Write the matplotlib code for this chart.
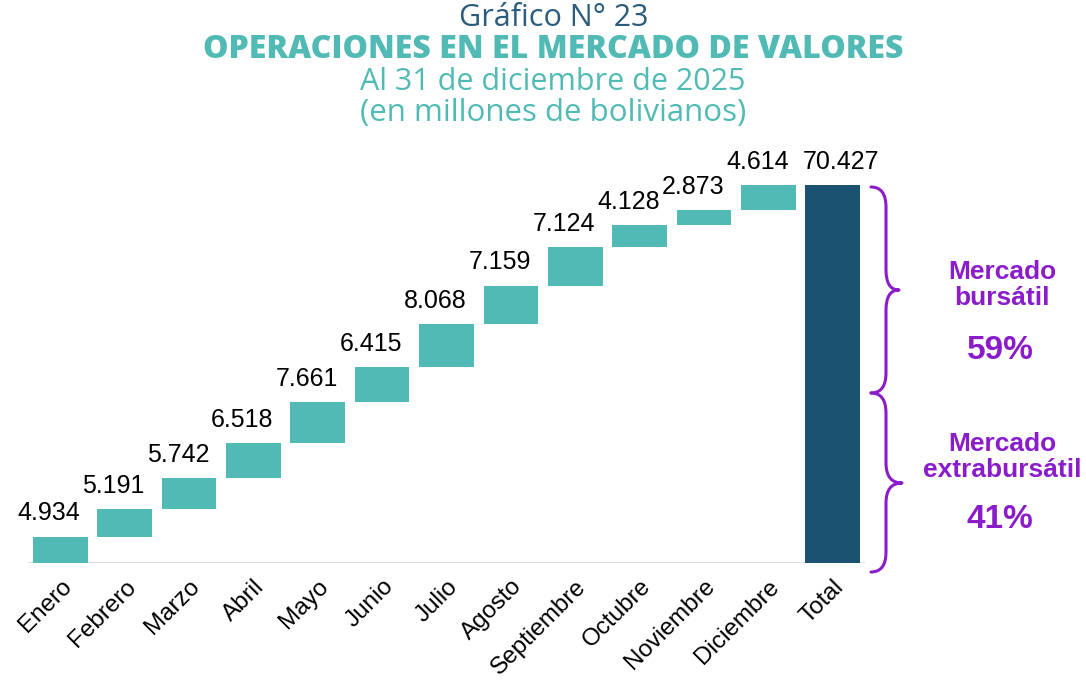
import numpy as np
import matplotlib.pyplot as plt
from matplotlib.path import Path
from matplotlib.patches import PathPatch

months = ['Enero', 'Febrero', 'Marzo', 'Abril', 'Mayo', 'Junio', 'Julio',
          'Agosto', 'Septiembre', 'Octubre', 'Noviembre', 'Diciembre']
values = [4934, 5191, 5742, 6518, 7661, 6415, 8068, 7159, 7124, 4128, 2873, 4614]
total_label = 'Total'
share_labels = ['Mercado\nbursátil', 'Mercado\nextrabursátil']
share_values = ['59%', '41%']

TEAL = '#52BAB4'
NAVY = '#1B5271'
PURPLE = '#8A1CC9'
TITLE_BLUE = '#2B5C7E'

W, H = 1086, 685
fig = plt.figure(figsize=(W / 100, H / 100), dpi=100)

# main axes (pixel box: x 28..865, baseline at y=563)
ax = fig.add_axes([28 / W, 1 - 563 / H, 837 / W, (563 - 176.6) / H])

vals = np.array(values)
cum = np.cumsum(vals)
total = cum[-1]
x = np.arange(len(months))

ax.bar(x, vals, bottom=cum - vals, width=0.85, color=TEAL, zorder=2)
ax.bar(len(months), total, width=0.85, color=NAVY, zorder=2)

fmt = lambda v: f'{v:,}'.replace(',', '.')
for xi, top, v in zip(x, cum, vals):
    ax.annotate(fmt(v), (xi, top), xytext=(-8, 8), textcoords='offset points',
                ha='center', va='bottom', fontsize=18, family='Liberation Sans')
ax.annotate(fmt(total), (len(months), total), xytext=(6, 8), textcoords='offset points',
            ha='center', va='bottom', fontsize=18, family='Liberation Sans')

ax.axhline(0, color='#d9d9d9', lw=2, zorder=1)
ax.set_xlim(-0.5, len(months) + 0.5)
ax.set_ylim(0, 72000)
ax.set_yticks([])
ax.set_xticks(list(x) + [len(months)])
ax.set_xticklabels(months + [total_label], rotation=45, ha='right', va='top',
                   rotation_mode='anchor', fontsize=17.5, family='Liberation Sans')
ax.tick_params(axis='x', length=0, pad=9)
for s in ax.spines.values():
    s.set_visible(False)

# titles
fig.text(554 / W, 1 - 18 / H, 'Gráfico N° 23', ha='center', va='center',
         fontsize=22, color=TITLE_BLUE, family='Open Sans')
fig.text(553 / W, 1 - 50 / H, 'OPERACIONES EN EL MERCADO DE VALORES', ha='center',
         va='center', fontsize=23, color=TEAL, family='Open Sans', weight='heavy')
fig.text(553 / W, 1 - 82 / H, 'Al 31 de diciembre de 2025', ha='center', va='center',
         fontsize=22, color=TEAL, family='Open Sans')
fig.text(553 / W, 1 - 113 / H, '(en millones de bolivianos)', ha='center', va='center',
         fontsize=22.5, color=TEAL, family='Open Sans')

# braces overlay in pixel coordinates
ov = fig.add_axes([0, 0, 1, 1], zorder=5)
ov.set_xlim(0, W)
ov.set_ylim(H, 0)
ov.axis('off')


def brace(x0, xv, xt, yt, ym, yb, r=20):
    verts = [(x0, yt), (xv, yt), (xv, yt + r),
             (xv, ym - r), (xv, ym), (xt, ym),
             (xv, ym), (xv, ym + r),
             (xv, yb - r), (xv, yb), (x0, yb)]
    codes = [Path.MOVETO, Path.CURVE3, Path.CURVE3,
             Path.LINETO, Path.CURVE3, Path.CURVE3,
             Path.CURVE3, Path.CURVE3,
             Path.LINETO, Path.CURVE3, Path.CURVE3]
    ov.add_patch(PathPatch(Path(verts, codes), fill=False, edgecolor=PURPLE,
                           lw=2.2, capstyle='round', joinstyle='round'))


brace(871, 886, 899, 187, 290, 393)
brace(871, 886, 902, 393, 483, 572)

for (lbl, pct, ylab, ypct) in zip(share_labels, share_values, [285, 457], [350, 520]):
    ov.text(1002, ylab, lbl, ha='center', va='center', fontsize=19, color=PURPLE,
            weight='bold', family='Liberation Sans', linespacing=1.15)
    ov.text(1000, ypct, pct, ha='center', va='center', fontsize=24, color=PURPLE,
            weight='bold', family='Liberation Sans')

fig.savefig('out.png', dpi=100)
